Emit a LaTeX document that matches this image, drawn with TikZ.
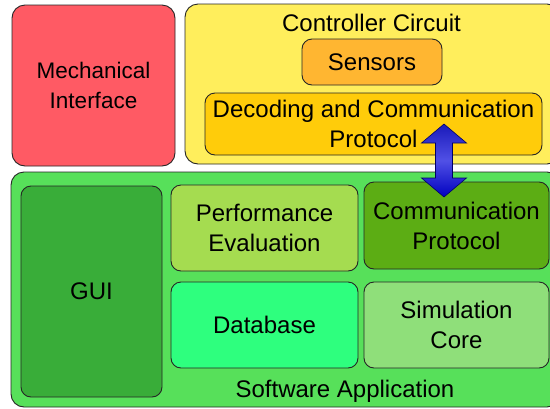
\documentclass[tikz,border=0pt]{standalone}
\usepackage{fontspec}
\setmainfont{Liberation Sans}
\begin{document}
\begin{tikzpicture}[x=1pt,y=-1pt,
  blk/.style={draw=black!85, line width=0.9pt, rounded corners=13pt, inner sep=0pt, align=center,
    font=\fontsize{24}{30}\selectfont},
  sblk/.style={blk, rounded corners=10pt},
  lbl/.style={font=\fontsize{24}{30}\selectfont, inner sep=0pt}]
\useasboundingbox (0,0) rectangle (550,408);
\definecolor{cmech}{HTML}{FF5A64}
\definecolor{cctrl}{HTML}{FFEE5C}
\definecolor{csens}{HTML}{FFB631}
\definecolor{cdec}{HTML}{FFCC0A}
\definecolor{csoft}{HTML}{57E05A}
\definecolor{cgui}{HTML}{39AD39}
\definecolor{cperf}{HTML}{A5DC50}
\definecolor{ccomm}{HTML}{5CAD14}
\definecolor{cdb}{HTML}{2EFF7E}
\definecolor{csim}{HTML}{8FDF7A}
\node[blk, fill=cmech, minimum width=163pt, minimum height=161pt, font=\fontsize{22.5}{30}\selectfont] (mech) at (93.5,85.5) {Mechanical\\Interface};
\node[blk, fill=cctrl, minimum width=375pt, minimum height=160pt] (ctrl) at (372.5,84) {};
\node[lbl] (ctrllbl) at (371.5,23) {Controller Circuit};
\node[sblk, fill=csens, minimum width=140pt, minimum height=46pt] (sens) at (372,62) {Sensors};
\node[sblk, fill=cdec, minimum width=337pt, minimum height=62pt] (dec) at (373.5,124) {Decoding and Communication\\Protocol};
\node[blk, fill=csoft, minimum width=549pt, minimum height=235pt] (soft) at (285.5,289.5) {};
\node[lbl] (softlbl) at (345,391) {Software Application};
\node[sblk, fill=cgui, minimum width=141pt, minimum height=211pt] (gui) at (91.5,291.5) {GUI};
\node[sblk, fill=cperf, minimum width=187pt, minimum height=86pt] (perf) at (264.5,228) {Performance\\Evaluation};
\node[sblk, fill=cdb, minimum width=187pt, minimum height=86pt] (db) at (264.5,325) {Database};
\node[sblk, fill=ccomm, minimum width=185pt, minimum height=87pt] (comm) at (456.5,225.5) {Communication\\Protocol};
\node[sblk, fill=csim, minimum width=185pt, minimum height=86pt] (sim) at (456.5,325) {Simulation\\Core};
\coordinate (at) at (444,124);
\coordinate (ab) at (444,197);
\path[draw=blue!40!black, line width=0.6pt, top color=blue!70!black!90, bottom color=blue!75!black, middle color=blue!65!white!90!black]
  (at) -- ++(22.5,19) -- ++(-14,0) -- ++(0,35) -- ++(14,0) -- (ab) -- ++(-22.5,-19) -- ++(14,0) -- ++(0,-35) -- ++(-14,0) -- cycle;
\end{tikzpicture}
\end{document}
